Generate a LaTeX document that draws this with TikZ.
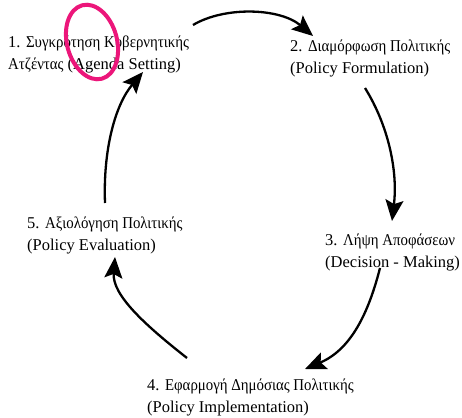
\documentclass[tikz,border=0pt]{standalone}
\usepackage{fontspec}
\setmainfont{Liberation Serif}
\newfontfamily\grk[FakeStretch=0.9]{Liberation Serif}
\usetikzlibrary{arrows.meta}
\definecolor{pinkmark}{RGB}{236,22,122}
\tikzset{
  lbl/.style={anchor=base west, inner sep=0pt, font=\fontsize{16.5}{22}\selectfont},
  cyc/.style={line width=2.3pt, -{Stealth[length=21pt,width=18pt,inset=4pt]}},
}
\begin{document}
\begin{tikzpicture}[x=1pt,y=-1pt]
\useasboundingbox[fill=white] (0,0) rectangle (462,417);
% labels
\node[lbl] (l1a) at (8,48) {1. {\grk Συγκρότηση Κυβερνητικής}};
\node[lbl] (l1b) at (8,70) {{\grk Ατζέντας} (Agenda Setting)};
\node[lbl] (l2a) at (290,52) {2. {\grk Διαμόρφωση Πολιτικής}};
\node[lbl] (l2b) at (290,74) {(Policy Formulation)};
\node[lbl] (l3a) at (325,245) {3. {\grk Λήψη Αποφάσεων}};
\node[lbl] (l3b) at (325,267) {(Decision - Making)};
\node[lbl] (l4a) at (147,390) {4. {\grk Εφαρμογή Δημόσιας Πολιτικής}};
\node[lbl] (l4b) at (147,412) {(Policy Implementation)};
\node[lbl] (l5a) at (27,228) {5. {\grk Αξιολόγηση Πολιτικής}};
\node[lbl] (l5b) at (27,250) {(Policy Evaluation)};
% connector ends
\coordinate (s12) at (193,25);  \coordinate (e12) at (313,36);
\coordinate (s23) at (365,88);  \coordinate (e23) at (392,221);
\coordinate (s34) at (380,268); \coordinate (e34) at (305,369);
\coordinate (s45) at (187,358); \coordinate (e45) at (115,257);
\coordinate (s51) at (105,203); \coordinate (e51) at (143,72);
% cycle arrows
\draw[cyc] (s12) .. controls (225,6) and (280,8) .. (e12);
\draw[cyc] (s23) .. controls (388,125) and (398,170) .. (e23);
\draw[cyc] (s34) .. controls (368,315) and (350,350) .. (e34);
\draw[cyc] (s45) .. controls (145,325) and (112,295) .. (e45);
\draw[cyc] (s51) .. controls (103,150) and (115,105) .. (e51);
% hand-drawn pink mark
\draw[pinkmark, line width=4pt, rotate around={15:(92,42)}] (92,42) ellipse (25 and 38);
\end{tikzpicture}
\end{document}
